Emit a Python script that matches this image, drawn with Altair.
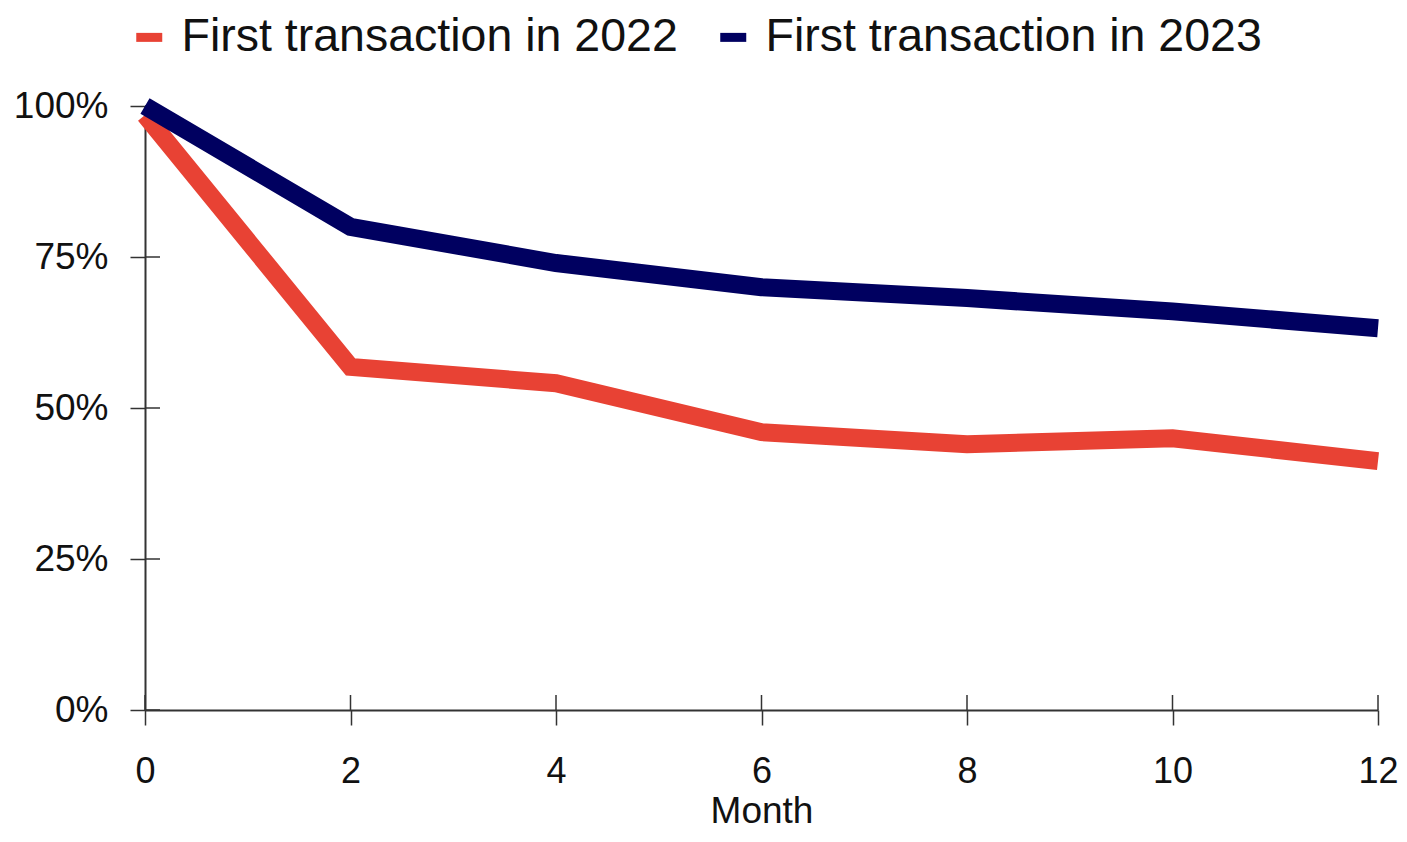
import altair as alt
import pandas as pd

months = [0, 2, 4, 6, 8, 10, 12]
retention_2022 = [0.985, 0.568, 0.541, 0.46, 0.44, 0.45, 0.412]
retention_2023 = [1.0, 0.80, 0.74, 0.70, 0.682, 0.66, 0.632]
series = ["First transaction in 2022", "First transaction in 2023"]
colors = ["#E84234", "#000060"]
y_ticks = [0, 0.25, 0.5, 0.75, 1.0]
x_ticks = [0, 2, 4, 6, 8, 10, 12]

rows = []
for m, v in zip(months, retention_2022):
    rows.append({"Month": m, "Value": v, "Series": series[0]})
for m, v in zip(months, retention_2023):
    rows.append({"Month": m, "Value": v, "Series": series[1]})
df = pd.DataFrame(rows)

FONT = "Liberation Sans"
AX = "#333333"

x_scale = alt.Scale(domain=[0, 12], nice=False, zero=False)
y_scale = alt.Scale(domain=[0, 1], nice=False)

lines = alt.Chart(df).mark_line(strokeWidth=18, strokeJoin="miter", strokeCap="butt").encode(
    x=alt.X("Month:Q", scale=x_scale,
            axis=alt.Axis(values=x_ticks, format="d", title="Month", grid=False, domainColor=AX,
                          domainWidth=2, tickColor=AX, tickWidth=1.5, tickSize=15, labelPadding=29,
                          labelFontSize=36, labelColor="#111", labelFont=FONT,
                          titleFont=FONT, titleFontSize=37, titleFontWeight="normal",
                          titleColor="#111", titlePadding=4, labelFlush=False)),
    y=alt.Y("Value:Q", scale=y_scale,
            axis=alt.Axis(values=y_ticks, format=".0%", title=None, grid=False, domainColor=AX,
                          domainWidth=2, tickColor=AX, tickWidth=1.5, tickSize=15,
                          labelPadding=22, labelFontSize=37, labelColor="#111", labelFont=FONT)),
    color=alt.Color("Series:N", scale=alt.Scale(domain=series, range=colors),
                    legend=alt.Legend(orient="none", legendX=-19, legendY=-92, direction="horizontal",
                                      title=None, symbolType="stroke", symbolStrokeWidth=9,
                                      symbolSize=676, labelFontSize=46.5, labelFont=FONT,
                                      labelColor="#111", labelOffset=9, columnPadding=24,
                                      labelLimit=1000)),
)

ytick_df = pd.DataFrame({"v": y_ticks})
inner_y = alt.Chart(ytick_df).mark_rule(color=AX, strokeWidth=1.5).encode(
    y=alt.Y("v:Q", scale=y_scale), x=alt.value(0), x2=alt.value(15))

xtick_df = pd.DataFrame({"m": x_ticks})
inner_x = alt.Chart(xtick_df).mark_rule(color=AX, strokeWidth=1.5).encode(
    x=alt.X("m:Q", scale=x_scale), y=alt.value(604), y2=alt.value(589))

chart = alt.layer(inner_y, inner_x, lines).properties(
    width=1233, height=604,
    autosize=alt.AutoSizeParams(type="none"),
    padding={"left": 137, "top": 98, "right": 21, "bottom": 124},
).configure(font=FONT).configure_view(strokeWidth=0, stroke=None)

chart.save("out.html", embed_options={"renderer": "svg", "actions": False})
